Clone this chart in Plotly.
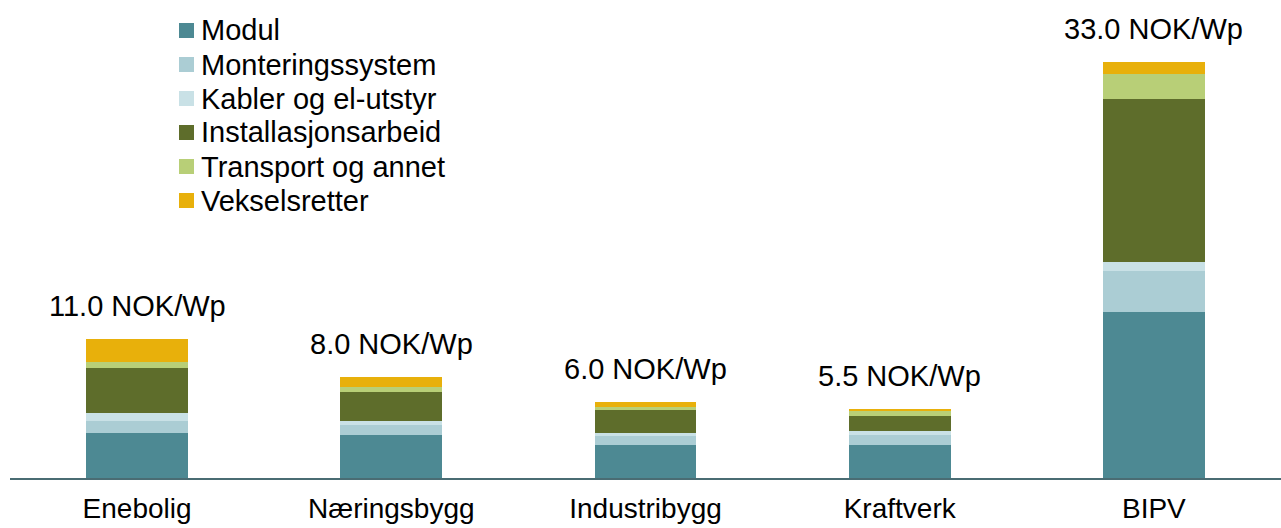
import plotly.graph_objects as go

# Cost breakdown of PV systems by segment (NOK/Wp)
categories = ["Enebolig", "Næringsbygg", "Industribygg", "Kraftverk", "BIPV"]

modul = [3.6, 3.4, 2.65, 2.65, 13.2]
monteringssystem = [0.9, 0.8, 0.7, 0.75, 3.25]
kabler = [0.65, 0.35, 0.25, 0.3, 0.7]
installasjonsarbeid = [3.6, 2.3, 1.8, 1.25, 12.9]
transport = [0.45, 0.4, 0.25, 0.35, 2.0]
vekselsretter = [1.8, 0.75, 0.35, 0.2, 0.95]

series = [
    ("Modul", modul, "#4d8993"),
    ("Monteringssystem", monteringssystem, "#abcdd4"),
    ("Kabler og el-utstyr", kabler, "#c9e1e6"),
    ("Installasjonsarbeid", installasjonsarbeid, "#5e6d2b"),
    ("Transport og annet", transport, "#b8cf77"),
    ("Vekselsretter", vekselsretter, "#e8b00b"),
]

FONT = "Liberation Sans, Arial, Helvetica, sans-serif"
W, H = 1281, 528
M_L, M_R, M_T, M_B = 10, 0, 0, 50
PX_PER_UNIT = 12.6
plot_h = H - M_T - M_B

fig = go.Figure()
for name, vals, color in series:
    fig.add_trace(go.Bar(
        x=categories, y=vals, name=name,
        marker=dict(color=color, line=dict(width=0)),
        showlegend=False, hoverinfo="x+y+name",
    ))

# Total labels above each stack
totals = [round(sum(v[i] for _, v, _ in series), 2) for i in range(len(categories))]
for cat, tot in zip(categories, totals):
    fig.add_annotation(
        x=cat, y=tot, xref="x", yref="y",
        text=f"{tot:.1f} NOK/Wp", showarrow=False,
        yanchor="bottom", yshift=15,
        font=dict(family=FONT, size=29, color="#000000"),
    )

# Legend drawn as coloured squares with labels
leg_x0, leg_sq = 179, 15
leg_y0, leg_step = 30.5, 34
for k, (name, _, color) in enumerate(series):
    yc = leg_y0 + k * leg_step
    fig.add_shape(
        type="rect", xref="paper", yref="paper",
        x0=(leg_x0 - M_L) / (W - M_L - M_R),
        x1=(leg_x0 + leg_sq - M_L) / (W - M_L - M_R),
        y0=1 - (yc + leg_sq / 2 - M_T) / plot_h,
        y1=1 - (yc - leg_sq / 2 - M_T) / plot_h,
        fillcolor=color, line=dict(width=0), layer="above",
    )
    fig.add_annotation(
        x=(199 - M_L) / (W - M_L - M_R), y=1 - (yc - M_T) / plot_h,
        xref="paper", yref="paper", xanchor="left", yanchor="middle",
        text=name, showarrow=False,
        font=dict(family=FONT, size=29, color="#000000"),
    )

fig.update_layout(
    barmode="stack", bargap=0.6,
    width=W, height=H,
    margin=dict(l=M_L, r=M_R, t=M_T, b=M_B),
    paper_bgcolor="white", plot_bgcolor="white",
    font=dict(family=FONT, color="#000000"),
    xaxis=dict(
        range=[-0.5, 4.5], showgrid=False, zeroline=False,
        showline=True, linecolor="#4a6c73", linewidth=2,
        ticks="", tickfont=dict(family=FONT, size=28, color="#000000"),
        ticklabelstandoff=4,
    ),
    yaxis=dict(
        range=[0, plot_h / PX_PER_UNIT], visible=False,
    ),
)

fig.write_html("out.html")
